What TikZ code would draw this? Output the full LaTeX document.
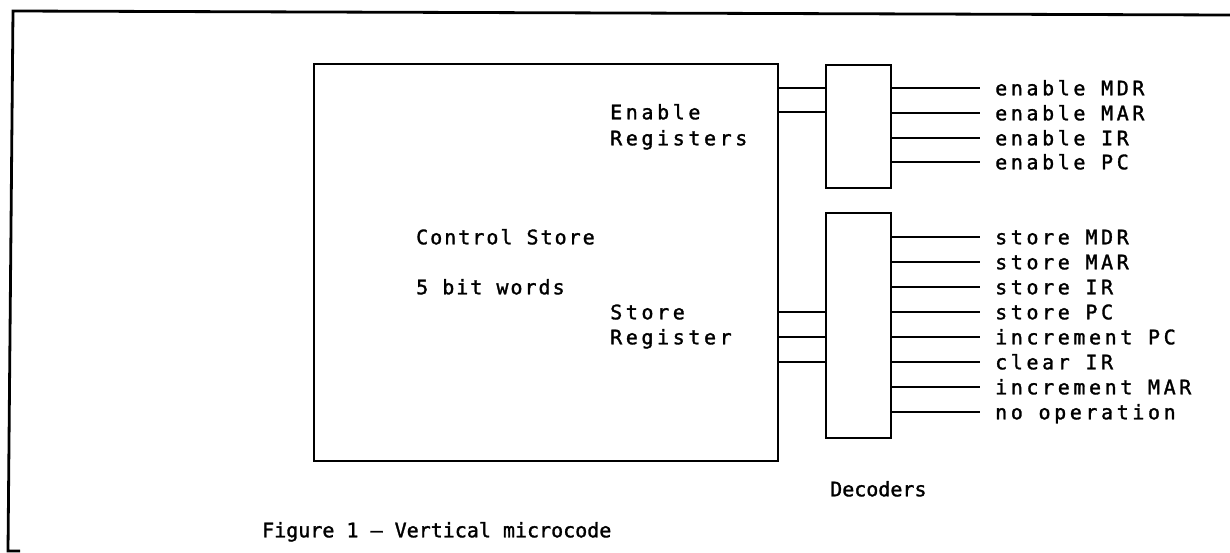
\documentclass[tikz,border=0pt]{standalone}
\usepackage{fontspec}
\newfontfamily\plotfont[LetterSpace=18,FakeBold=1.5]{DejaVu Sans Mono}
\newfontfamily\plotmid[LetterSpace=10,FakeBold=1.5]{DejaVu Sans Mono}
\newfontfamily\plotnarrow[FakeBold=1.5]{DejaVu Sans Mono}
\tikzset{
  boxst/.style={draw, line width=2.4pt, inner sep=0pt},
  wire/.style={line width=2.2pt},
  frame/.style={line width=2.8pt},
  lbl/.style={anchor=west, inner sep=0pt, text height=14.6pt, text depth=0pt,
              font=\plotfont\fontsize{20}{24}\selectfont},
  lblmid/.style={lbl, font=\plotmid\fontsize{20}{24}\selectfont},
  lblnarrow/.style={lbl, font=\plotnarrow\fontsize{20}{24}\selectfont},
}
\begin{document}
\begin{tikzpicture}[x=1pt, y=-1pt]
\useasboundingbox (0,0) rectangle (1230,552);
% outer frame
\draw[frame] (1230,15) -- (13,11) -- (8,551) -- (20,551);
% boxes
\node[boxst, minimum width=464pt, minimum height=397pt, anchor=north west] (cs) at (313,63) {};
\node[boxst, minimum width=65pt, minimum height=123pt, anchor=north west] (dec1) at (825,64) {};
\node[boxst, minimum width=65pt, minimum height=225pt, anchor=north west] (dec2) at (825,212) {};
% inputs upper
\foreach \y [count=\i] in {88,112} {
  \coordinate (ui\i) at (800,\y);
  \draw[wire] (cs.east |- ui\i) -- (dec1.west |- ui\i);
}
% inputs lower
\foreach \y [count=\i] in {312,337,362} {
  \coordinate (li\i) at (800,\y);
  \draw[wire] (cs.east |- li\i) -- (dec2.west |- li\i);
}
% outputs upper
\foreach \y/\t [count=\i] in {88/enable MDR,113/enable MAR,138/enable IR,162/enable PC} {
  \coordinate (uo\i) at (980,\y);
  \draw[wire] (dec1.east |- uo\i) -- (uo\i);
  \node[lbl] (ul\i) at (995,\y) {\t};
}
% outputs lower
\foreach \y/\t [count=\i] in {237/store MDR,262/store MAR,287/store IR,312/store PC,337/increment PC,362/clear IR,387/increment MAR,412/no operation} {
  \coordinate (lo\i) at (980,\y);
  \draw[wire] (dec2.east |- lo\i) -- (lo\i);
  \node[lbl] (ll\i) at (995,\y) {\t};
}
% texts
\node[lbl] (en) at (610,112) {Enable};
\node[lbl] (reg) at (610,138) {Registers};
\node[lbl] (st) at (610,312) {Store};
\node[lbl] (sreg) at (610,337) {Register};
\node[lblmid] (ctl) at (416,237) {Control Store};
\node[lblmid] (bits) at (416,287) {5 bit words};
\node[lblnarrow] (decs) at (830,489) {Decoders};
\node[lblnarrow] (cap) at (262,530) {Figure 1 – Vertical microcode};
\end{tikzpicture}
\end{document}
